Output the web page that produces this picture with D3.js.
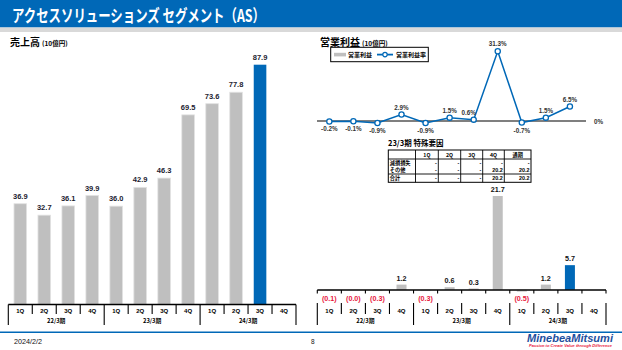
<!DOCTYPE html>
<html>
<head>
<meta charset="utf-8">
<script src="https://cdn.jsdelivr.net/npm/d3@7"></script>
<style>
  html, body { margin: 0; padding: 0; background: #fff; }
  svg { display: block; }
  text { font-family: "Liberation Sans", Arial, "Noto Sans CJK JP", sans-serif; }
  .jp { font-family: "Noto Sans CJK JP", "Liberation Sans", sans-serif; }
</style>
</head>
<body>
<svg id="chart" width="622" height="350"></svg>
<script>
// Quarter labels and fiscal years (12 quarters, last one not yet reported)
const quarters = ["1Q","2Q","3Q","4Q","1Q","2Q","3Q","4Q","1Q","2Q","3Q","4Q"];
const fiscalYears = ["22/3期","23/3期","24/3期"];

// Net sales (10億円)
const sales = [36.9, 32.7, 36.1, 39.9, 36.0, 42.9, 46.3, 69.5, 73.6, 77.8, 87.9, null];
// Operating income (10億円)
const opProfit = [-0.1, -0.04, -0.3, 1.2, -0.3, 0.6, 0.3, 21.7, -0.5, 1.2, 5.7, null];
// Operating margin (%)
const opMargin = [-0.2, -0.1, -0.9, 2.9, -0.9, 1.5, 0.6, 31.3, -0.7, 1.5, 6.5, null];

// Special factors table for FY23/3
const specialCols = ["1Q","2Q","3Q","4Q","通期"];
const specialRows = ["減損損失","その他","合計"];
const specialValues = [
  ["-","-","-","-","-"],
  ["-","-","-","20.2","20.2"],
  ["-","-","-","20.2","20.2"]
];

const currentIdx = 10;
const BLUE = "#0068b7";
const GRAY = "#bfbfbf";
const RED = "#e8173c";

const svg = d3.select("#chart");

// ---- Header band ----
svg.append("rect").attr("x", 0).attr("y", 0).attr("width", 622).attr("height", 27.5).attr("fill", BLUE);
svg.append("rect").attr("x", 0).attr("y", 27.5).attr("width", 622).attr("height", 4.5).attr("fill", "#d9d9d9");
svg.append("text").attr("class", "jp")
  .attr("x", 12).attr("y", 21.5)
  .attr("font-size", 17).attr("font-weight", "bold").attr("fill", "#fff")
  .attr("textLength", 253).attr("lengthAdjust", "spacingAndGlyphs")
  .text("アクセスソリューションズ セグメント（AS）");

// ---- Section titles ----
function sectionTitle(x, main) {
  const t = svg.append("text").attr("class", "jp").attr("x", x).attr("y", 45.5).attr("fill", "#000");
  t.append("tspan").attr("font-size", 10).attr("font-weight", "bold").text(main);
  t.append("tspan").attr("font-size", 6.5).attr("font-weight", "bold").attr("dx", 2).text("(10億円)");
}
sectionTitle(10, "売上高");
sectionTitle(320, "営業利益");

// ---- Shared category axis builder ----
function categoryAxis(x, axisY, tableTop, withTopTicks) {
  const g = svg.append("g");
  const [x0, x1] = x.range();
  g.append("line").attr("x1", x0).attr("x2", x1).attr("y1", axisY).attr("y2", axisY)
    .attr("stroke", "#000").attr("stroke-width", 1.3);
  const bounds = d3.range(13).map(i => x0 + i * x.step());
  bounds.forEach((bx, i) => {
    const isGroup = i % 4 === 0;
    if (withTopTicks) {
      g.append("line").attr("x1", bx).attr("x2", bx).attr("y1", axisY).attr("y2", axisY + 3.5)
        .attr("stroke", "#000").attr("stroke-width", 1.1);
    }
    g.append("line").attr("x1", bx).attr("x2", bx)
      .attr("y1", tableTop).attr("y2", isGroup ? 325 : 314)
      .attr("stroke", "#000").attr("stroke-width", 1.1);
  });
  quarters.forEach((q, i) => {
    g.append("text").attr("x", x(i) + x.bandwidth() / 2).attr("y", 313)
      .attr("text-anchor", "middle").attr("font-size", 6).attr("font-weight", "bold").text(q);
  });
  fiscalYears.forEach((fy, k) => {
    g.append("text").attr("class", "jp").attr("x", x0 + (k * 4 + 2) * x.step()).attr("y", 323)
      .attr("text-anchor", "middle").attr("font-size", 5.8).attr("font-weight", "bold").text(fy);
  });
}

// ---- Left: Net sales ----
const xL = d3.scaleBand().domain(d3.range(12)).range([8.3, 296]).padding(0);
const yL = d3.scaleLinear().domain([0, 87.9]).range([304.3, 64.7]);
const barWL = 12.6;

const salesData = sales.map((v, i) => ({ v, i })).filter(d => d.v != null);
svg.append("g").selectAll("rect").data(salesData).join("rect")
  .attr("x", d => xL(d.i) + xL.bandwidth() / 2 - barWL / 2)
  .attr("y", d => yL(d.v))
  .attr("width", barWL)
  .attr("height", d => yL(0) - yL(d.v))
  .attr("fill", d => d.i === currentIdx ? BLUE : GRAY)
  .attr("stroke", d => d.i === currentIdx ? "none" : "#e2e2e2")
  .attr("stroke-width", 0.8);
svg.append("g").selectAll("text").data(salesData).join("text")
  .attr("x", d => xL(d.i) + xL.bandwidth() / 2)
  .attr("y", d => yL(d.v) - 5)
  .attr("text-anchor", "middle").attr("font-size", 7.5).attr("font-weight", "bold")
  .attr("fill", "#1c1c30")
  .text(d => d.v.toFixed(1));
categoryAxis(xL, 304.5, 304.5, false);

// ---- Right: Operating income bars ----
const xR = d3.scaleBand().domain(d3.range(12)).range([317.3, 606]).padding(0);
const yR = d3.scaleLinear().domain([0, 21.7]).range([289.8, 196]);
const barWR = 10;

const profitData = opProfit.map((v, i) => ({ v, i })).filter(d => d.v != null);
svg.append("g").selectAll("rect").data(profitData).join("rect")
  .attr("x", d => xR(d.i) + xR.bandwidth() / 2 - barWR / 2)
  .attr("y", d => d.v >= 0 ? yR(d.v) : yR(0))
  .attr("width", barWR)
  .attr("height", d => Math.abs(yR(d.v) - yR(0)))
  .attr("fill", d => d.i === currentIdx ? BLUE : (d.v < 0 ? "#d9d9d9" : GRAY));
svg.append("g").selectAll("text").data(profitData).join("text")
  .attr("x", d => xR(d.i) + xR.bandwidth() / 2)
  .attr("y", d => d.v >= 0 ? yR(d.v) - 4 : 300.5)
  .attr("text-anchor", "middle").attr("font-size", 7.2).attr("font-weight", "bold")
  .attr("fill", d => d.v >= 0 ? "#111" : RED)
  .text(d => d.v >= 0 ? d.v.toFixed(1) : `(${Math.abs(d.v).toFixed(1)})`);
categoryAxis(xR, 290, 303, true);

// ---- Right: Operating margin line ----
const yM = d3.scaleLinear().domain([0, 31.3]).range([121, 51.3]);
svg.append("line").attr("x1", 317).attr("x2", 586).attr("y1", yM(0)).attr("y2", yM(0))
  .attr("stroke", "#000").attr("stroke-width", 1.1);
svg.append("text").attr("x", 594).attr("y", yM(0) + 2.5).attr("font-size", 6.3)
  .attr("font-weight", "bold").attr("fill", "#333").text("0%");

const marginData = opMargin.map((v, i) => ({ v, i })).filter(d => d.v != null);
const cx = d => xR(d.i) + xR.bandwidth() / 2;
// label that sits just above the line is nudged left so it clears the rising segment
const labelNudge = d => (d.v >= 0 && d.v < 1 ? -5 : 0);
svg.append("path").datum(marginData)
  .attr("fill", "none").attr("stroke", BLUE).attr("stroke-width", 1.5)
  .attr("d", d3.line().x(cx).y(d => yM(d.v)));
svg.append("g").selectAll("circle").data(marginData).join("circle")
  .attr("cx", cx).attr("cy", d => yM(d.v)).attr("r", 2.6)
  .attr("fill", "#fff").attr("stroke", BLUE).attr("stroke-width", 1.3);
svg.append("g").selectAll("text").data(marginData).join("text")
  .attr("x", d => cx(d) + labelNudge(d))
  .attr("y", d => d.v >= 0 ? yM(d.v) - 5 : yM(d.v) + 10)
  .attr("text-anchor", "middle").attr("font-size", 6.3).attr("font-weight", "bold")
  .attr("fill", "#333")
  .text(d => d.v.toFixed(1) + "%");

// ---- Legend ----
const lg = svg.append("g");
lg.append("rect").attr("x", 330.7).attr("y", 47.3).attr("width", 97.6).attr("height", 14.4)
  .attr("fill", "#fff").attr("stroke", "#000").attr("stroke-width", 1);
lg.append("rect").attr("x", 334).attr("y", 52.8).attr("width", 12).attr("height", 3.6).attr("fill", GRAY);
lg.append("text").attr("class", "jp").attr("x", 348).attr("y", 57).attr("font-size", 6)
  .attr("font-weight", "bold").text("営業利益");
lg.append("line").attr("x1", 377).attr("x2", 393).attr("y1", 54.6).attr("y2", 54.6)
  .attr("stroke", BLUE).attr("stroke-width", 1.8);
lg.append("circle").attr("cx", 385).attr("cy", 54.6).attr("r", 2.2)
  .attr("fill", "#fff").attr("stroke", BLUE).attr("stroke-width", 1.2);
lg.append("text").attr("class", "jp").attr("x", 396).attr("y", 57).attr("font-size", 6)
  .attr("font-weight", "bold").text("営業利益率");

// ---- Special factors table ----
const tb = svg.append("g");
tb.append("text").attr("class", "jp").attr("x", 388).attr("y", 145.5).attr("font-size", 7.5)
  .attr("font-weight", "bold").text("23/3期  特殊要因");
const colX = [388.3, 415.5, 438.3, 460.7, 482.7, 504.3, 531];
const rowY = [150, 159, 166.6, 174, 182.3];
tb.append("rect").attr("x", colX[0]).attr("y", rowY[0])
  .attr("width", colX[6] - colX[0]).attr("height", rowY[4] - rowY[0])
  .attr("fill", "#fff").attr("stroke", "#000").attr("stroke-width", 1);
colX.slice(1, 6).forEach(x => tb.append("line").attr("x1", x).attr("x2", x)
  .attr("y1", rowY[0]).attr("y2", rowY[4]).attr("stroke", "#000").attr("stroke-width", 0.9));
[rowY[1], rowY[3]].forEach(y => tb.append("line").attr("x1", colX[0]).attr("x2", colX[6])
  .attr("y1", y).attr("y2", y).attr("stroke", "#000").attr("stroke-width", 0.9));
specialCols.forEach((c, j) => tb.append("text").attr("class", "jp")
  .attr("x", (colX[j + 1] + colX[j + 2]) / 2).attr("y", 156.8)
  .attr("text-anchor", "middle").attr("font-size", 5.2).attr("font-weight", "bold").text(c));
specialRows.forEach((r, i) => {
  const yy = [164.5, 172, 180.3][i];
  tb.append("text").attr("class", "jp").attr("x", colX[0] + 1.5).attr("y", yy)
    .attr("font-size", 5.2).attr("font-weight", "bold").text(r);
  specialValues[i].forEach((v, j) => tb.append("text")
    .attr("x", colX[j + 2] - 1.5).attr("y", yy)
    .attr("text-anchor", "end").attr("font-size", 5.4).attr("font-weight", "bold").text(v));
});

// ---- Footer ----
svg.append("line").attr("x1", 0).attr("x2", 622).attr("y1", 332.3).attr("y2", 332.3)
  .attr("stroke", BLUE).attr("stroke-width", 1.6);
svg.append("text").attr("x", 14).attr("y", 343.5).attr("font-size", 7.2).attr("fill", "#111").text("2024/2/2");
svg.append("text").attr("x", 311).attr("y", 343.5).attr("font-size", 6.5).attr("fill", "#111").text("8");
svg.append("text").attr("x", 527).attr("y", 341.5).attr("font-size", 11.2).attr("font-weight", "bold")
  .attr("font-style", "italic").attr("fill", "#1d4f9e")
  .attr("textLength", 86).attr("lengthAdjust", "spacingAndGlyphs").text("MinebeaMitsumi");
svg.append("text").attr("x", 529).attr("y", 347.2).attr("font-size", 4).attr("font-weight", "bold")
  .attr("font-style", "italic").attr("fill", "#e8173c")
  .attr("textLength", 83).attr("lengthAdjust", "spacingAndGlyphs").text("Passion to Create Value through Difference");
</script>
</body>
</html>
